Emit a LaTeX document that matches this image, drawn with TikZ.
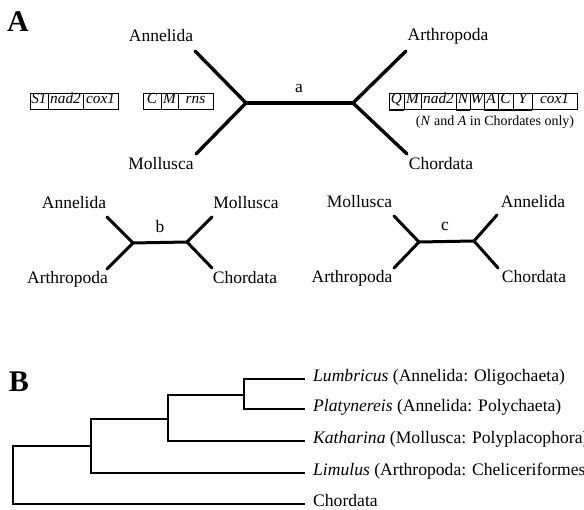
\documentclass[tikz,border=0pt]{standalone}
\usepackage{fontspec}
\setmainfont{Liberation Serif}
\begin{document}
\begin{tikzpicture}[x=1pt,y=-1pt,
  lab/.style={font=\fontsize{17.5}{20}\selectfont, inner sep=0pt, anchor=mid},
  panel/.style={font=\fontsize{30}{32}\selectfont\bfseries, inner sep=0pt},
  gene/.style={font=\fontsize{15.3}{17}\selectfont\itshape, inner sep=0pt, anchor=mid},
  taxon/.style={font=\fontsize{17.6}{19}\selectfont, inner sep=0pt, anchor=mid west},
  brA/.style={line width=3.4pt, line cap=round},
  brb/.style={line width=3pt, line cap=round},
  brB/.style={line width=2.9pt, line join=miter},
  gbox/.style={line width=0.8pt},
  under/.style={line width=2.8pt}]
\useasboundingbox (0,0) rectangle (584,510);

% ---------------- Panel A ----------------
\node[panel] (lblA) at (18,22) {A};

\coordinate (aL) at (246,103);
\coordinate (aR) at (353,103);
\coordinate (aAnn) at (195,51);
\coordinate (aMol) at (196,154);
\coordinate (aArt) at (406,51);
\coordinate (aCho) at (407,154);
\draw[brA] (aAnn) -- (aL) -- (aMol);
\draw[brA] (aL) -- (aR);
\draw[brA] (aArt) -- (aR) -- (aCho);
\node[lab] (aAnnT) at (161,39) {Annelida};
\node[lab] (aMolT) at (161,167) {Mollusca};
\node[lab] (aArtT) at (448,38) {Arthropoda};
\node[lab] (aChoT) at (441,167) {Chordata};
\node[lab] (aT) at (299,90) {a};

% left gene boxes
\draw[gbox] (30,93) rectangle (118,109);
\draw[gbox] (48,93) -- (48,109) (83,93) -- (83,109);
\node[gene] (g1) at (39,101) {S1};
\node[gene] (g2) at (65.5,101) {nad2};
\node[gene] (g3) at (100.5,101) {cox1};

\draw[gbox] (143,93) rectangle (213,109);
\draw[gbox] (161,93) -- (161,109) (178,93) -- (178,109);
\node[gene] (g4) at (152,101) {C};
\node[gene] (g5) at (169.5,101) {M};
\node[gene] (g6) at (195.5,101) {rns};

% right gene box
\draw[gbox] (389,93) rectangle (577,109);
\foreach \x in {404,421,456,470,484,498,513,532}
  \draw[gbox] (\x,93) -- (\x,109);
\node[gene] (r1) at (396.5,101) {Q};
\node[gene] (r2) at (412.5,101) {M};
\node[gene] (r3) at (438.5,101) {nad2};
\node[gene] (r4) at (463,101) {N};
\node[gene] (r5) at (477,101) {W};
\node[gene] (r6) at (491,101) {A};
\node[gene] (r7) at (505.5,101) {C};
\node[gene] (r8) at (522.5,101) {Y};
\node[gene] (r9) at (554.5,101) {cox1};
\draw[under] (389,110) -- (404,110);
\draw[under] (456,110) -- (470,110);
\draw[under] (484,110) -- (532,110);
\node[font=\fontsize{14}{16}\selectfont, inner sep=0pt, anchor=mid] (note) at (495,123) {(\textit{N} and \textit{A} in Chordates only)};

% tree b
\coordinate (bL) at (133,243);
\coordinate (bR) at (187,242);
\coordinate (bAnn) at (107,217);
\coordinate (bArt) at (107,269);
\coordinate (bMol) at (212,217);
\coordinate (bCho) at (212,268);
\draw[brb] (bAnn) -- (bL) -- (bArt);
\draw[brb] (bL) -- (bR);
\draw[brb] (bMol) -- (bR) -- (bCho);
\node[lab] (bAnnT) at (74,206) {Annelida};
\node[lab] (bArtT) at (67.5,281) {Arthropoda};
\node[lab] (bMolT) at (246,206) {Mollusca};
\node[lab] (bChoT) at (245,281) {Chordata};
\node[lab] (bT) at (160,230) {b};

% tree c
\coordinate (cL) at (419,242);
\coordinate (cR) at (474,241);
\coordinate (cMol) at (394,216);
\coordinate (cArt) at (394,268);
\coordinate (cAnn) at (497,215);
\coordinate (cCho) at (498,268);
\draw[brb] (cMol) -- (cL) -- (cArt);
\draw[brb] (cL) -- (cR);
\draw[brb] (cAnn) -- (cR) -- (cCho);
\node[lab] (cMolT) at (359.5,205) {Mollusca};
\node[lab] (cArtT) at (352,280) {Arthropoda};
\node[lab] (cAnnT) at (533,205) {Annelida};
\node[lab] (cChoT) at (534,280) {Chordata};
\node[lab] (cT) at (445,228) {c};

% ---------------- Panel B ----------------
\node[panel] (lblB) at (19,382) {B};

\coordinate (n0) at (13,446);
\coordinate (n1) at (91,446);
\coordinate (n2) at (168,419);
\coordinate (n3) at (244,395);

\node[taxon] (tLum) at (313,379) {\textit{Lumbricus} (Annelida: Oligochaeta)};
\node[taxon] (tPla) at (313,409) {\textit{Platynereis} (Annelida: Polychaeta)};
\node[taxon] (tKat) at (313,441) {\textit{Katharina} (Mollusca: Polyplacophora)};
\node[taxon] (tLim) at (313,473) {\textit{Limulus} (Arthropoda: Cheliceriformes)};
\node[taxon] (tCho) at (313,504) {Chordata};

\draw[brB] (305,504) -| (n0) -- (n1);
\draw[brB] (305,473) -| (91,419) -- (n2);
\draw[brB] (305,441) -| (168,395) -- (n3);
\draw[brB] (305,409) -| (244,379) -- (305,379);
\end{tikzpicture}
\end{document}
